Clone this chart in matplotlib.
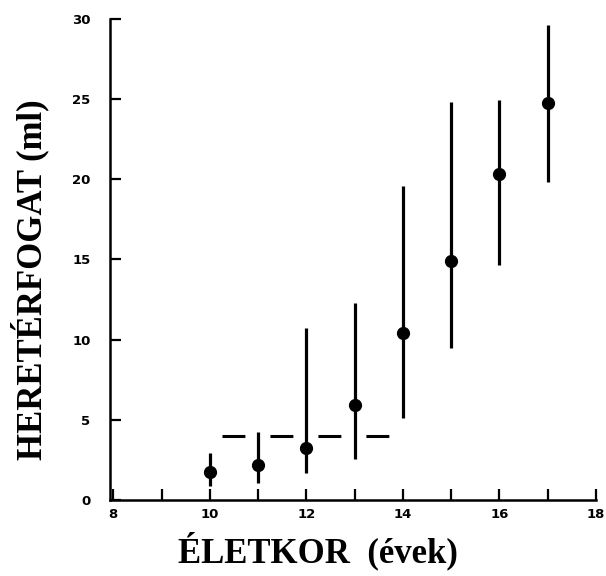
import numpy as np
import matplotlib
matplotlib.use('Agg')
import matplotlib.pyplot as plt
from matplotlib.ticker import MultipleLocator

# életkor (évek) és heretérfogat (ml) – leolvasott értékek
ages = [10, 11, 12, 13, 14, 15, 16, 17]
volume = [1.75, 2.2, 3.25, 5.95, 10.4, 14.9, 20.35, 24.75]
upper = [2.9, 4.25, 10.7, 12.3, 19.6, 24.8, 24.95, 29.6]
lower = [0.9, 1.05, 1.7, 2.55, 5.1, 9.5, 14.65, 19.85]

# szaggatott vízszintes vonal
ref_x = [10.25, 13.8]
ref_y = [4.0, 4.0]

xticks = [8, 10, 12, 14, 16, 18]
yticks = [0, 5, 10, 15, 20, 25, 30]

volume = np.array(volume)
yerr = [volume - np.array(lower), np.array(upper) - volume]

fig = plt.figure(figsize=(6.06, 5.76), dpi=100)
ax = fig.add_axes([0.1815, 0.132, 0.802, 0.835])

ax.errorbar(ages, volume, yerr=yerr, fmt='o', color='black', ms=8.5,
            elinewidth=2.3, capsize=0, zorder=3)
ax.plot(ref_x, ref_y, color='black', lw=2.2, dashes=(7.5, 8.2))

ax.set_xlim(7.93, 18)
ax.set_ylim(0, 30)
ax.set_xticks(xticks)
ax.set_yticks(yticks)
ax.xaxis.set_minor_locator(MultipleLocator(1))

for s in ['top', 'right']:
    ax.spines[s].set_visible(False)
for s in ['left', 'bottom']:
    ax.spines[s].set_linewidth(1.8)

ax.tick_params(axis='both', which='both', direction='in', width=1.6, color='black')
ax.tick_params(axis='x', which='major', length=8, pad=6)
ax.tick_params(axis='x', which='minor', length=8)
ax.tick_params(axis='y', which='major', length=8, pad=14)

for lab in ax.get_xticklabels() + ax.get_yticklabels():
    lab.set_fontfamily('DejaVu Sans')
    lab.set_fontweight('bold')
    lab.set_fontsize(9.5)

ax.set_xlabel('ÉLETKOR  (évek)', family='Liberation Serif', fontweight='bold',
              fontsize=25, va='center')
ax.xaxis.set_label_coords(0.428, -0.105)
ax.set_ylabel('HERETÉRFOGAT (ml)', family='Liberation Serif', fontweight='bold',
              fontsize=25, va='center')
ax.yaxis.set_label_coords(-0.165, 0.459)

fig.savefig('out.png', dpi=100)
